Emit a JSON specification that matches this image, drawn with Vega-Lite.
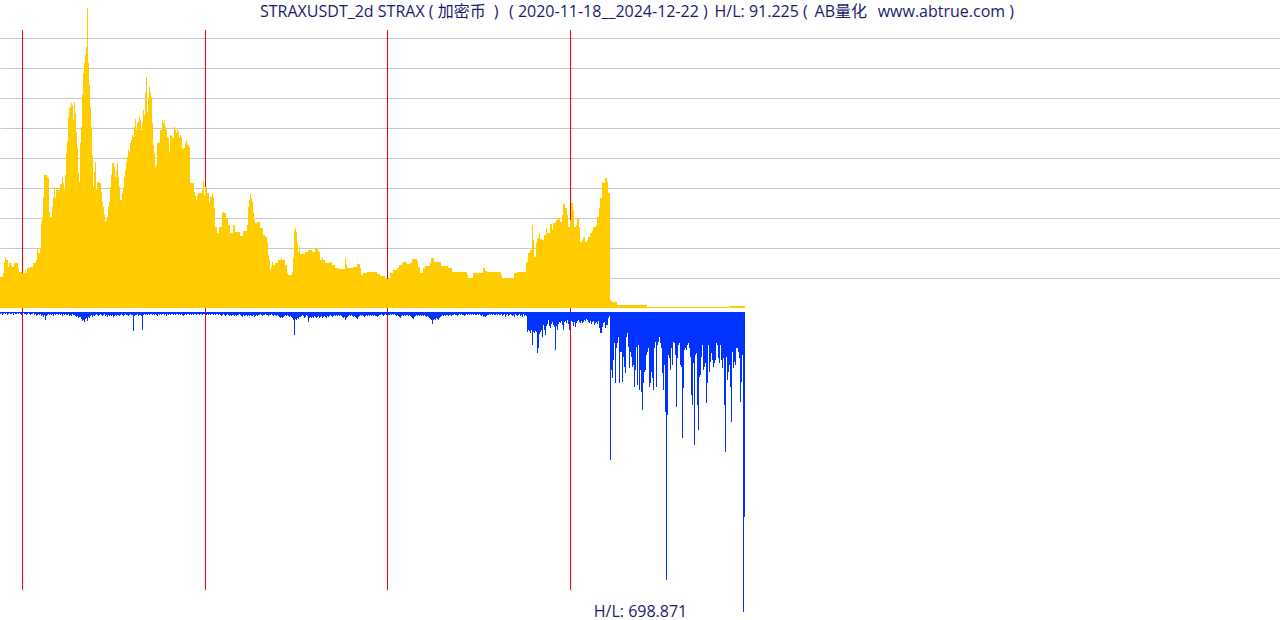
{
  "$schema": "https://vega.github.io/schema/vega-lite/v6.json",
  "width": 1280,
  "height": 620,
  "autosize": "none",
  "padding": 0,
  "background": "white",
  "title": {
    "text": "STRAXUSDT_2d STRAX\u00a0(\u00a0加密币\u2002)\u2002\u2009(\u00a02020-11-18__2024-12-22\u00a0)\u00a0\u2009H/L: 91.225\u00a0(\u00a0\u2009AB量化\u2002\u2009www.abtrue.com\u00a0)",
    "anchor": "middle",
    "frame": "group",
    "offset": -20,
    "dx": -3,
    "font": "Open Sans, Noto Sans CJK SC",
    "fontSize": 16,
    "fontWeight": "normal",
    "color": "#1a1a6e"
  },
  "data": {
    "values": [
      {"day":0,"p":31,"v":2},{"day":2,"p":31,"v":1},{"day":4,"p":31,"v":3},{"day":6,"p":35,"v":2},{"day":8,"p":46,"v":1},{"day":10,"p":51,"v":2},{"day":12,"p":48,"v":1},{"day":14,"p":48,"v":3},{"day":16,"p":41,"v":2},{"day":18,"p":45,"v":1},
      {"day":20,"p":45,"v":2},{"day":22,"p":43,"v":2},{"day":24,"p":41,"v":1},{"day":26,"p":41,"v":3},{"day":28,"p":45,"v":1},{"day":30,"p":45,"v":2},{"day":32,"p":45,"v":2},{"day":34,"p":45,"v":1},{"day":36,"p":40,"v":2},{"day":38,"p":36,"v":1},
      {"day":40,"p":36,"v":2},{"day":42,"p":36,"v":3},{"day":44,"p":35,"v":2},{"day":46,"p":35,"v":1},{"day":48,"p":35,"v":2},{"day":50,"p":38,"v":2},{"day":52,"p":35,"v":3},{"day":54,"p":40,"v":2},{"day":56,"p":40,"v":1},{"day":58,"p":40,"v":2},
      {"day":60,"p":41,"v":3},{"day":62,"p":41,"v":2},{"day":64,"p":41,"v":2},{"day":66,"p":45,"v":1},{"day":68,"p":45,"v":3},{"day":70,"p":45,"v":2},{"day":72,"p":48,"v":4},{"day":74,"p":60,"v":3},{"day":76,"p":55,"v":2},{"day":78,"p":55,"v":3},
      {"day":80,"p":60,"v":2},{"day":82,"p":85,"v":4},{"day":84,"p":91,"v":3},{"day":86,"p":111,"v":5},{"day":88,"p":133,"v":3},{"day":90,"p":133,"v":8},{"day":92,"p":133,"v":4},{"day":94,"p":131,"v":3},{"day":96,"p":130,"v":2},{"day":98,"p":96,"v":3},
      {"day":100,"p":91,"v":2},{"day":102,"p":91,"v":3},{"day":104,"p":101,"v":2},{"day":106,"p":111,"v":4},{"day":108,"p":121,"v":2},{"day":110,"p":110,"v":3},{"day":112,"p":118,"v":2},{"day":114,"p":118,"v":2},{"day":116,"p":118,"v":3},{"day":118,"p":118,"v":2},
      {"day":120,"p":124,"v":3},{"day":122,"p":124,"v":2},{"day":124,"p":131,"v":4},{"day":126,"p":125,"v":2},{"day":128,"p":118,"v":3},{"day":130,"p":133,"v":2},{"day":132,"p":155,"v":3},{"day":134,"p":166,"v":3},{"day":136,"p":190,"v":2},{"day":138,"p":200,"v":4},
      {"day":140,"p":201,"v":3},{"day":142,"p":205,"v":4},{"day":144,"p":203,"v":2},{"day":146,"p":188,"v":3},{"day":148,"p":206,"v":3},{"day":150,"p":195,"v":4},{"day":152,"p":176,"v":5},{"day":154,"p":161,"v":4},{"day":156,"p":135,"v":6},{"day":158,"p":126,"v":5},
      {"day":160,"p":165,"v":5},{"day":162,"p":181,"v":7},{"day":164,"p":213,"v":9},{"day":166,"p":235,"v":8},{"day":168,"p":245,"v":10},{"day":170,"p":253,"v":7},{"day":172,"p":261,"v":6},{"day":174,"p":300,"v":9},{"day":176,"p":245,"v":5},{"day":178,"p":223,"v":6},
      {"day":180,"p":201,"v":4},{"day":182,"p":181,"v":3},{"day":184,"p":153,"v":5},{"day":186,"p":121,"v":3},{"day":188,"p":136,"v":4},{"day":190,"p":146,"v":3},{"day":192,"p":118,"v":2},{"day":194,"p":126,"v":3},{"day":196,"p":126,"v":4},{"day":198,"p":125,"v":3},
      {"day":200,"p":125,"v":2},{"day":202,"p":116,"v":3},{"day":204,"p":106,"v":4},{"day":206,"p":101,"v":3},{"day":208,"p":93,"v":2},{"day":210,"p":86,"v":4},{"day":212,"p":88,"v":3},{"day":214,"p":91,"v":5},{"day":216,"p":101,"v":3},{"day":218,"p":106,"v":4},
      {"day":220,"p":121,"v":3},{"day":222,"p":133,"v":4},{"day":224,"p":145,"v":3},{"day":226,"p":145,"v":5},{"day":228,"p":141,"v":4},{"day":230,"p":131,"v":3},{"day":232,"p":138,"v":4},{"day":234,"p":145,"v":3},{"day":236,"p":131,"v":3},{"day":238,"p":121,"v":4},
      {"day":240,"p":108,"v":3},{"day":242,"p":108,"v":2},{"day":244,"p":115,"v":3},{"day":246,"p":121,"v":4},{"day":248,"p":131,"v":3},{"day":250,"p":138,"v":2},{"day":252,"p":146,"v":3},{"day":254,"p":151,"v":3},{"day":256,"p":158,"v":4},{"day":258,"p":156,"v":3},
      {"day":260,"p":165,"v":2},{"day":262,"p":168,"v":3},{"day":264,"p":173,"v":3},{"day":266,"p":171,"v":19},{"day":268,"p":181,"v":4},{"day":270,"p":189,"v":3},{"day":272,"p":178,"v":3},{"day":274,"p":185,"v":2},{"day":276,"p":186,"v":4},{"day":278,"p":191,"v":3},
      {"day":280,"p":188,"v":3},{"day":282,"p":178,"v":4},{"day":284,"p":186,"v":18},{"day":286,"p":198,"v":3},{"day":288,"p":193,"v":2},{"day":290,"p":215,"v":3},{"day":292,"p":231,"v":2},{"day":294,"p":196,"v":3},{"day":296,"p":210,"v":2},{"day":298,"p":221,"v":3},
      {"day":300,"p":216,"v":2},{"day":302,"p":211,"v":2},{"day":304,"p":185,"v":3},{"day":306,"p":163,"v":2},{"day":308,"p":155,"v":3},{"day":310,"p":141,"v":2},{"day":312,"p":143,"v":3},{"day":314,"p":165,"v":4},{"day":316,"p":166,"v":2},{"day":318,"p":165,"v":3},
      {"day":320,"p":178,"v":2},{"day":322,"p":178,"v":3},{"day":324,"p":188,"v":2},{"day":326,"p":185,"v":2},{"day":328,"p":188,"v":3},{"day":330,"p":181,"v":2},{"day":332,"p":178,"v":4},{"day":334,"p":171,"v":2},{"day":336,"p":170,"v":3},{"day":338,"p":156,"v":2},
      {"day":340,"p":173,"v":3},{"day":342,"p":172,"v":2},{"day":344,"p":171,"v":2},{"day":346,"p":170,"v":3},{"day":348,"p":181,"v":2},{"day":350,"p":178,"v":3},{"day":352,"p":175,"v":2},{"day":354,"p":180,"v":2},{"day":356,"p":176,"v":3},{"day":358,"p":170,"v":2},
      {"day":360,"p":173,"v":3},{"day":362,"p":171,"v":2},{"day":364,"p":160,"v":3},{"day":366,"p":159,"v":4},{"day":368,"p":160,"v":3},{"day":370,"p":165,"v":2},{"day":372,"p":168,"v":3},{"day":374,"p":163,"v":2},{"day":376,"p":163,"v":2},{"day":378,"p":161,"v":3},
      {"day":380,"p":125,"v":2},{"day":382,"p":125,"v":3},{"day":384,"p":125,"v":2},{"day":386,"p":125,"v":3},{"day":388,"p":116,"v":2},{"day":390,"p":112,"v":2},{"day":392,"p":108,"v":3},{"day":394,"p":113,"v":2},{"day":396,"p":115,"v":2},{"day":398,"p":115,"v":3},
      {"day":400,"p":115,"v":2},{"day":402,"p":115,"v":2},{"day":404,"p":118,"v":3},{"day":406,"p":127,"v":2},{"day":408,"p":113,"v":2},{"day":410,"p":121,"v":2},{"day":412,"p":121,"v":3},{"day":414,"p":115,"v":2},{"day":416,"p":115,"v":3},{"day":418,"p":105,"v":2},
      {"day":420,"p":111,"v":3},{"day":422,"p":111,"v":2},{"day":424,"p":114,"v":2},{"day":426,"p":111,"v":3},{"day":428,"p":100,"v":2},{"day":430,"p":81,"v":3},{"day":432,"p":81,"v":2},{"day":434,"p":75,"v":2},{"day":436,"p":75,"v":3},{"day":438,"p":81,"v":2},
      {"day":440,"p":81,"v":3},{"day":442,"p":81,"v":4},{"day":444,"p":95,"v":3},{"day":446,"p":96,"v":2},{"day":448,"p":95,"v":3},{"day":450,"p":95,"v":4},{"day":452,"p":90,"v":3},{"day":454,"p":90,"v":2},{"day":456,"p":83,"v":3},{"day":458,"p":83,"v":4},
      {"day":460,"p":75,"v":3},{"day":462,"p":75,"v":4},{"day":464,"p":75,"v":3},{"day":466,"p":83,"v":3},{"day":468,"p":83,"v":4},{"day":470,"p":76,"v":3},{"day":472,"p":76,"v":4},{"day":474,"p":76,"v":3},{"day":476,"p":76,"v":3},{"day":478,"p":76,"v":2},
      {"day":480,"p":72,"v":3},{"day":482,"p":72,"v":4},{"day":484,"p":72,"v":5},{"day":486,"p":77,"v":3},{"day":488,"p":77,"v":4},{"day":490,"p":77,"v":3},{"day":492,"p":77,"v":3},{"day":494,"p":83,"v":4},{"day":496,"p":101,"v":3},{"day":498,"p":108,"v":4},
      {"day":500,"p":114,"v":3},{"day":502,"p":110,"v":4},{"day":504,"p":106,"v":4},{"day":506,"p":95,"v":3},{"day":508,"p":88,"v":5},{"day":510,"p":85,"v":4},{"day":512,"p":85,"v":3},{"day":514,"p":86,"v":4},{"day":516,"p":86,"v":3},{"day":518,"p":86,"v":3},
      {"day":520,"p":80,"v":2},{"day":522,"p":80,"v":3},{"day":524,"p":80,"v":4},{"day":526,"p":73,"v":3},{"day":528,"p":73,"v":3},{"day":530,"p":71,"v":2},{"day":532,"p":71,"v":3},{"day":534,"p":66,"v":3},{"day":536,"p":53,"v":4},{"day":538,"p":48,"v":3},
      {"day":540,"p":38,"v":3},{"day":542,"p":41,"v":2},{"day":544,"p":46,"v":3},{"day":546,"p":43,"v":4},{"day":548,"p":43,"v":3},{"day":550,"p":45,"v":3},{"day":552,"p":45,"v":4},{"day":554,"p":45,"v":3},{"day":556,"p":48,"v":4},{"day":558,"p":48,"v":5},
      {"day":560,"p":48,"v":6},{"day":562,"p":50,"v":5},{"day":564,"p":48,"v":6},{"day":566,"p":48,"v":5},{"day":568,"p":48,"v":4},{"day":570,"p":43,"v":3},{"day":572,"p":43,"v":4},{"day":574,"p":35,"v":3},{"day":576,"p":33,"v":4},{"day":578,"p":33,"v":5},
      {"day":580,"p":33,"v":4},{"day":582,"p":33,"v":5},{"day":584,"p":36,"v":6},{"day":586,"p":51,"v":8},{"day":588,"p":77,"v":23},{"day":590,"p":80,"v":7},{"day":592,"p":76,"v":8},{"day":594,"p":65,"v":6},{"day":596,"p":56,"v":7},{"day":598,"p":61,"v":5},
      {"day":600,"p":54,"v":5},{"day":602,"p":54,"v":4},{"day":604,"p":54,"v":3},{"day":606,"p":54,"v":4},{"day":608,"p":54,"v":6},{"day":610,"p":56,"v":5},{"day":612,"p":56,"v":3},{"day":614,"p":56,"v":4},{"day":616,"p":58,"v":10},{"day":618,"p":58,"v":6},
      {"day":620,"p":58,"v":5},{"day":622,"p":58,"v":6},{"day":624,"p":56,"v":5},{"day":626,"p":56,"v":6},{"day":628,"p":56,"v":4},{"day":630,"p":60,"v":5},{"day":632,"p":60,"v":6},{"day":634,"p":60,"v":5},{"day":636,"p":56,"v":4},{"day":638,"p":56,"v":6},
      {"day":640,"p":48,"v":5},{"day":642,"p":48,"v":4},{"day":644,"p":51,"v":6},{"day":646,"p":48,"v":5},{"day":648,"p":48,"v":4},{"day":650,"p":45,"v":5},{"day":652,"p":45,"v":6},{"day":654,"p":45,"v":4},{"day":656,"p":45,"v":5},{"day":658,"p":45,"v":4},
      {"day":660,"p":46,"v":3},{"day":662,"p":46,"v":4},{"day":664,"p":43,"v":5},{"day":666,"p":43,"v":4},{"day":668,"p":43,"v":3},{"day":670,"p":40,"v":4},{"day":672,"p":40,"v":3},{"day":674,"p":40,"v":4},{"day":676,"p":39,"v":3},{"day":678,"p":39,"v":4},
      {"day":680,"p":39,"v":3},{"day":682,"p":39,"v":4},{"day":684,"p":39,"v":5},{"day":686,"p":39,"v":6},{"day":688,"p":39,"v":5},{"day":690,"p":50,"v":8},{"day":692,"p":43,"v":6},{"day":694,"p":40,"v":5},{"day":696,"p":40,"v":4},{"day":698,"p":40,"v":3},
      {"day":700,"p":40,"v":4},{"day":702,"p":40,"v":3},{"day":704,"p":40,"v":4},{"day":706,"p":41,"v":5},{"day":708,"p":41,"v":4},{"day":710,"p":41,"v":5},{"day":712,"p":41,"v":6},{"day":714,"p":44,"v":7},{"day":716,"p":44,"v":5},{"day":718,"p":44,"v":4},
      {"day":720,"p":40,"v":3},{"day":722,"p":33,"v":4},{"day":724,"p":33,"v":3},{"day":726,"p":35,"v":4},{"day":728,"p":35,"v":5},{"day":730,"p":35,"v":4},{"day":732,"p":35,"v":3},{"day":734,"p":36,"v":4},{"day":736,"p":36,"v":3},{"day":738,"p":36,"v":4},
      {"day":740,"p":36,"v":3},{"day":742,"p":36,"v":4},{"day":744,"p":36,"v":3},{"day":746,"p":36,"v":4},{"day":748,"p":36,"v":3},{"day":750,"p":36,"v":4},{"day":752,"p":36,"v":4},{"day":754,"p":34,"v":5},{"day":756,"p":34,"v":4},{"day":758,"p":34,"v":3},
      {"day":760,"p":32,"v":3},{"day":762,"p":32,"v":2},{"day":764,"p":32,"v":3},{"day":766,"p":32,"v":4},{"day":768,"p":32,"v":3},{"day":770,"p":29,"v":2},{"day":772,"p":29,"v":3},{"day":774,"p":29,"v":2},{"day":776,"p":29,"v":3},{"day":778,"p":29,"v":3},
      {"day":780,"p":35,"v":2},{"day":782,"p":35,"v":3},{"day":784,"p":35,"v":2},{"day":786,"p":38,"v":3},{"day":788,"p":38,"v":2},{"day":790,"p":38,"v":3},{"day":792,"p":38,"v":4},{"day":794,"p":40,"v":3},{"day":796,"p":40,"v":4},{"day":798,"p":43,"v":5},
      {"day":800,"p":43,"v":6},{"day":802,"p":43,"v":4},{"day":804,"p":45,"v":3},{"day":806,"p":46,"v":4},{"day":808,"p":46,"v":3},{"day":810,"p":46,"v":4},{"day":812,"p":46,"v":3},{"day":814,"p":44,"v":3},{"day":816,"p":44,"v":4},{"day":818,"p":44,"v":3},
      {"day":820,"p":45,"v":4},{"day":822,"p":45,"v":5},{"day":824,"p":49,"v":6},{"day":826,"p":49,"v":7},{"day":828,"p":49,"v":5},{"day":830,"p":49,"v":4},{"day":832,"p":49,"v":3},{"day":834,"p":47,"v":4},{"day":836,"p":41,"v":3},{"day":838,"p":41,"v":4},
      {"day":840,"p":35,"v":3},{"day":842,"p":35,"v":4},{"day":844,"p":35,"v":3},{"day":846,"p":40,"v":4},{"day":848,"p":40,"v":3},{"day":850,"p":42,"v":4},{"day":852,"p":42,"v":5},{"day":854,"p":42,"v":4},{"day":856,"p":42,"v":5},{"day":858,"p":42,"v":6},
      {"day":860,"p":45,"v":7},{"day":862,"p":50,"v":8},{"day":864,"p":50,"v":12},{"day":866,"p":50,"v":8},{"day":868,"p":46,"v":7},{"day":870,"p":46,"v":8},{"day":872,"p":46,"v":6},{"day":874,"p":46,"v":7},{"day":876,"p":46,"v":8},{"day":878,"p":46,"v":6},
      {"day":880,"p":46,"v":5},{"day":882,"p":42,"v":4},{"day":884,"p":42,"v":3},{"day":886,"p":42,"v":4},{"day":888,"p":42,"v":3},{"day":890,"p":42,"v":4},{"day":892,"p":42,"v":3},{"day":894,"p":42,"v":3},{"day":896,"p":40,"v":4},{"day":898,"p":40,"v":3},
      {"day":900,"p":40,"v":3},{"day":902,"p":40,"v":4},{"day":904,"p":36,"v":3},{"day":906,"p":36,"v":3},{"day":908,"p":36,"v":2},{"day":910,"p":36,"v":3},{"day":912,"p":36,"v":3},{"day":914,"p":36,"v":4},{"day":916,"p":36,"v":3},{"day":918,"p":36,"v":2},
      {"day":920,"p":36,"v":3},{"day":922,"p":36,"v":2},{"day":924,"p":36,"v":3},{"day":926,"p":36,"v":3},{"day":928,"p":36,"v":4},{"day":930,"p":36,"v":3},{"day":932,"p":36,"v":2},{"day":934,"p":33,"v":3},{"day":936,"p":30,"v":2},{"day":938,"p":30,"v":3},
      {"day":940,"p":30,"v":2},{"day":942,"p":30,"v":3},{"day":944,"p":30,"v":2},{"day":946,"p":35,"v":3},{"day":948,"p":35,"v":2},{"day":950,"p":35,"v":3},{"day":952,"p":35,"v":3},{"day":954,"p":35,"v":2},{"day":956,"p":35,"v":3},{"day":958,"p":35,"v":2},
      {"day":960,"p":35,"v":3},{"day":962,"p":35,"v":4},{"day":964,"p":35,"v":3},{"day":966,"p":40,"v":5},{"day":968,"p":40,"v":4},{"day":970,"p":37,"v":5},{"day":972,"p":37,"v":4},{"day":974,"p":36,"v":3},{"day":976,"p":36,"v":3},{"day":978,"p":36,"v":2},
      {"day":980,"p":36,"v":3},{"day":982,"p":36,"v":2},{"day":984,"p":36,"v":3},{"day":986,"p":36,"v":2},{"day":988,"p":36,"v":3},{"day":990,"p":36,"v":3},{"day":992,"p":36,"v":2},{"day":994,"p":36,"v":3},{"day":996,"p":36,"v":2},{"day":998,"p":36,"v":3},
      {"day":1000,"p":36,"v":3},{"day":1002,"p":33,"v":2},{"day":1004,"p":30,"v":4},{"day":1006,"p":30,"v":3},{"day":1008,"p":30,"v":2},{"day":1010,"p":30,"v":5},{"day":1012,"p":30,"v":3},{"day":1014,"p":30,"v":2},{"day":1016,"p":30,"v":4},{"day":1018,"p":30,"v":3},
      {"day":1020,"p":30,"v":2},{"day":1022,"p":30,"v":3},{"day":1024,"p":30,"v":4},{"day":1026,"p":30,"v":3},{"day":1028,"p":35,"v":5},{"day":1030,"p":35,"v":2},{"day":1032,"p":35,"v":3},{"day":1034,"p":36,"v":4},{"day":1036,"p":36,"v":3},{"day":1038,"p":36,"v":2},
      {"day":1040,"p":36,"v":4},{"day":1042,"p":36,"v":3},{"day":1044,"p":36,"v":5},{"day":1046,"p":36,"v":2},{"day":1048,"p":36,"v":4},{"day":1050,"p":36,"v":3},{"day":1052,"p":46,"v":4},{"day":1054,"p":46,"v":20},{"day":1056,"p":55,"v":18},{"day":1058,"p":55,"v":19},
      {"day":1060,"p":58,"v":21},{"day":1062,"p":58,"v":18},{"day":1064,"p":83,"v":33},{"day":1066,"p":68,"v":20},{"day":1068,"p":51,"v":21},{"day":1070,"p":51,"v":19},{"day":1072,"p":65,"v":20},{"day":1074,"p":70,"v":41},{"day":1076,"p":70,"v":36},{"day":1078,"p":75,"v":22},
      {"day":1080,"p":69,"v":20},{"day":1082,"p":69,"v":18},{"day":1084,"p":68,"v":25},{"day":1086,"p":68,"v":13},{"day":1088,"p":73,"v":18},{"day":1090,"p":73,"v":23},{"day":1092,"p":80,"v":14},{"day":1094,"p":75,"v":12},{"day":1096,"p":75,"v":8},{"day":1098,"p":75,"v":14},
      {"day":1100,"p":84,"v":16},{"day":1102,"p":84,"v":12},{"day":1104,"p":78,"v":10},{"day":1106,"p":85,"v":13},{"day":1108,"p":85,"v":15},{"day":1110,"p":85,"v":38},{"day":1112,"p":88,"v":14},{"day":1114,"p":88,"v":18},{"day":1116,"p":90,"v":12},{"day":1118,"p":90,"v":10},
      {"day":1120,"p":86,"v":11},{"day":1122,"p":86,"v":9},{"day":1124,"p":93,"v":13},{"day":1126,"p":104,"v":18},{"day":1128,"p":104,"v":10},{"day":1130,"p":100,"v":9},{"day":1132,"p":100,"v":11},{"day":1134,"p":93,"v":8},{"day":1136,"p":81,"v":12},{"day":1138,"p":81,"v":18},
      {"day":1140,"p":88,"v":12},{"day":1142,"p":105,"v":9},{"day":1144,"p":105,"v":10},{"day":1146,"p":98,"v":14},{"day":1148,"p":81,"v":10},{"day":1150,"p":81,"v":15},{"day":1152,"p":83,"v":11},{"day":1154,"p":90,"v":9},{"day":1156,"p":90,"v":8},{"day":1158,"p":81,"v":10},
      {"day":1160,"p":66,"v":11},{"day":1162,"p":66,"v":9},{"day":1164,"p":68,"v":11},{"day":1166,"p":71,"v":10},{"day":1168,"p":71,"v":8},{"day":1170,"p":66,"v":9},{"day":1172,"p":66,"v":7},{"day":1174,"p":68,"v":8},{"day":1176,"p":71,"v":10},{"day":1178,"p":71,"v":11},
      {"day":1180,"p":75,"v":9},{"day":1182,"p":75,"v":12},{"day":1184,"p":77,"v":10},{"day":1186,"p":81,"v":9},{"day":1188,"p":81,"v":13},{"day":1190,"p":81,"v":11},{"day":1192,"p":83,"v":10},{"day":1194,"p":91,"v":12},{"day":1196,"p":91,"v":9},{"day":1198,"p":100,"v":16},
      {"day":1200,"p":110,"v":21},{"day":1202,"p":110,"v":21},{"day":1204,"p":126,"v":15},{"day":1206,"p":125,"v":11},{"day":1208,"p":125,"v":10},{"day":1210,"p":130,"v":16},{"day":1212,"p":130,"v":13},{"day":1214,"p":126,"v":13},{"day":1216,"p":115,"v":6},{"day":1218,"p":115,"v":4},
      {"day":1220,"p":8,"v":148},{"day":1222,"p":7,"v":58},{"day":1224,"p":6,"v":66},{"day":1226,"p":6,"v":48},{"day":1228,"p":6,"v":31},{"day":1230,"p":6,"v":71},{"day":1232,"p":6,"v":36},{"day":1234,"p":3,"v":31},{"day":1236,"p":3,"v":25},{"day":1238,"p":3,"v":71},
      {"day":1240,"p":3,"v":40},{"day":1242,"p":3,"v":40},{"day":1244,"p":3,"v":70},{"day":1246,"p":3,"v":45},{"day":1248,"p":3,"v":55},{"day":1250,"p":3,"v":61},{"day":1252,"p":3,"v":25},{"day":1254,"p":3,"v":21},{"day":1256,"p":3,"v":35},{"day":1258,"p":3,"v":56},
      {"day":1260,"p":3,"v":40},{"day":1262,"p":3,"v":45},{"day":1264,"p":3,"v":55},{"day":1266,"p":3,"v":53},{"day":1268,"p":3,"v":75},{"day":1270,"p":3,"v":58},{"day":1272,"p":3,"v":35},{"day":1274,"p":3,"v":73},{"day":1276,"p":3,"v":33},{"day":1278,"p":3,"v":78},
      {"day":1280,"p":3,"v":58},{"day":1282,"p":3,"v":80},{"day":1284,"p":3,"v":98},{"day":1286,"p":3,"v":71},{"day":1288,"p":3,"v":60},{"day":1290,"p":3,"v":58},{"day":1292,"p":3,"v":43},{"day":1294,"p":1,"v":40},{"day":1296,"p":1,"v":36},{"day":1298,"p":1,"v":75},
      {"day":1300,"p":1,"v":71},{"day":1302,"p":1,"v":60},{"day":1304,"p":1,"v":66},{"day":1306,"p":1,"v":78},{"day":1308,"p":1,"v":36},{"day":1310,"p":1,"v":30},{"day":1312,"p":1,"v":75},{"day":1314,"p":1,"v":33},{"day":1316,"p":1,"v":30},{"day":1318,"p":1,"v":25},
      {"day":1320,"p":1,"v":31},{"day":1322,"p":1,"v":36},{"day":1324,"p":1,"v":61},{"day":1326,"p":1,"v":78},{"day":1328,"p":1,"v":53},{"day":1330,"p":1,"v":100},{"day":1332,"p":1,"v":268},{"day":1334,"p":1,"v":103},{"day":1336,"p":1,"v":43},{"day":1338,"p":1,"v":46},
      {"day":1340,"p":1,"v":58},{"day":1342,"p":1,"v":36},{"day":1344,"p":1,"v":53},{"day":1346,"p":1,"v":30},{"day":1348,"p":1,"v":31},{"day":1350,"p":1,"v":43},{"day":1352,"p":1,"v":95},{"day":1354,"p":1,"v":46},{"day":1356,"p":1,"v":33},{"day":1358,"p":1,"v":31},
      {"day":1360,"p":1,"v":53},{"day":1362,"p":1,"v":55},{"day":1364,"p":1,"v":126},{"day":1366,"p":1,"v":76},{"day":1368,"p":1,"v":38},{"day":1370,"p":1,"v":36},{"day":1372,"p":1,"v":38},{"day":1374,"p":1,"v":33},{"day":1376,"p":1,"v":31},{"day":1378,"p":1,"v":36},
      {"day":1380,"p":1,"v":45},{"day":1382,"p":1,"v":83},{"day":1384,"p":1,"v":93},{"day":1386,"p":1,"v":51},{"day":1388,"p":1,"v":133},{"day":1390,"p":1,"v":43},{"day":1392,"p":1,"v":41},{"day":1394,"p":1,"v":93},{"day":1396,"p":1,"v":118},{"day":1398,"p":1,"v":65},
      {"day":1400,"p":1,"v":63},{"day":1402,"p":1,"v":45},{"day":1404,"p":1,"v":33},{"day":1406,"p":1,"v":58},{"day":1408,"p":1,"v":55},{"day":1410,"p":1,"v":51},{"day":1412,"p":1,"v":91},{"day":1414,"p":1,"v":71},{"day":1416,"p":1,"v":33},{"day":1418,"p":1,"v":60},
      {"day":1420,"p":1,"v":50},{"day":1422,"p":1,"v":41},{"day":1424,"p":1,"v":48},{"day":1426,"p":1,"v":55},{"day":1428,"p":1,"v":51},{"day":1430,"p":1,"v":48},{"day":1432,"p":1,"v":31},{"day":1434,"p":1,"v":33},{"day":1436,"p":1,"v":46},{"day":1438,"p":1,"v":51},
      {"day":1440,"p":1,"v":33},{"day":1442,"p":1,"v":48},{"day":1444,"p":1,"v":56},{"day":1446,"p":1,"v":46},{"day":1448,"p":1,"v":93},{"day":1450,"p":1,"v":140},{"day":1452,"p":1,"v":45},{"day":1454,"p":1,"v":68},{"day":1456,"p":1,"v":60},{"day":1458,"p":1,"v":53},
      {"day":1460,"p":2,"v":75},{"day":1462,"p":2,"v":110},{"day":1464,"p":2,"v":40},{"day":1466,"p":2,"v":56},{"day":1468,"p":2,"v":50},{"day":1470,"p":2,"v":53},{"day":1472,"p":2,"v":36},{"day":1474,"p":2,"v":36},{"day":1476,"p":2,"v":40},{"day":1478,"p":2,"v":46},
      {"day":1480,"p":2,"v":90},{"day":1482,"p":2,"v":70},{"day":1484,"p":2,"v":43},{"day":1486,"p":2,"v":300},{"day":1488,"p":2,"v":205}
    ]
  },
  "layer": [
    {
      "data": {"values": [{"year": 2021, "day": 44}, {"year": 2022, "day": 410}, {"year": 2023, "day": 774}, {"year": 2024, "day": 1140}]},
      "mark": {"type": "rule", "color": "#ff0000", "strokeWidth": 1, "xOffset": 0.5},
      "encoding": {
        "x": {
          "field": "day",
          "type": "quantitative",
          "scale": {"domain": [0, 2560], "nice": false, "zero": false, "padding": 0},
          "axis": {
            "title": "H/L: 698.871",
            "labels": false,
            "ticks": false,
            "domain": false,
            "grid": false,
            "titleFont": "Open Sans, Noto Sans CJK SC",
            "titleFontSize": 16,
            "titleFontWeight": "normal",
            "titleColor": "#1a1a6e",
            "titleBaseline": "middle",
            "titleY": -9
          }
        },
        "y": {"datum": 278, "type": "quantitative", "scale": {"domain": [-312, 308], "nice": false}, "axis": null},
        "y2": {"datum": -282}
      }
    },
    {
      "mark": {"type": "bar", "color": "#ffcc00", "opacity": 1, "width": 1, "xOffset": 0.5},
      "encoding": {
        "x": {"field": "day", "type": "quantitative"},
        "y": {
          "field": "p",
          "type": "quantitative",
          "scale": {"domain": [-312, 308], "nice": false},
          "axis": {
            "values": [30, 60, 90, 120, 150, 180, 210, 240, 270],
            "grid": true,
            "gridColor": "#c8c8c8",
            "gridWidth": 1,
            "labels": false,
            "ticks": false,
            "domain": false,
            "title": null
          }
        }
      }
    },
    {
      "mark": {"type": "bar", "color": "#0033ff", "opacity": 1, "width": 1, "xOffset": 0.5},
      "encoding": {
        "x": {"field": "day", "type": "quantitative"},
        "y": {"field": "v", "type": "quantitative", "scale": {"domain": [-312, 308], "reverse": true, "nice": false}, "axis": null}
      }
    }
  ],
  "resolve": {"scale": {"y": "independent"}},
  "config": {"view": {"stroke": null}, "scale": {"continuousPadding": 0}}
}
